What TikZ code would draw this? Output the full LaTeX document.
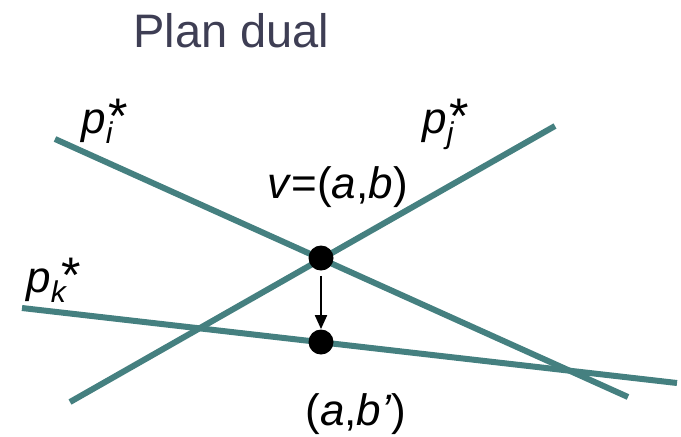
\documentclass[tikz,border=0pt]{standalone}
\usepackage{fontspec}
\setmainfont{Liberation Sans}
\usetikzlibrary{positioning,arrows.meta}
\definecolor{dualline}{RGB}{69,128,128}
\definecolor{titlegray}{RGB}{62,62,84}
\newcommand{\dualp}[1]{\textit{p}\raisebox{-5pt}{\fontsize{15}{15}\selectfont\itshape #1}\kern-0.1em{\fontsize{25}{25}\selectfont*}}
\begin{document}
\begin{tikzpicture}[x=0.5pt,y=-0.5pt,
        dualln/.style={line width=3pt,dualline},
        dot/.style={circle,fill=black,inner sep=0pt,minimum size=12.5pt},
        lbl/.style={anchor=base west,inner sep=0pt,font=\fontsize{22}{26}\selectfont}]
    \useasboundingbox (0,0) rectangle (681,436);
    % title
    \node[anchor=base west,inner sep=0pt,titlegray,font=\fontsize{23.5}{28}\selectfont] (title) at (133,47) {Plan dual};
    % dual lines
    \coordinate (pi-a) at (55,139);  \coordinate (pi-b) at (628,397);
    \coordinate (pj-a) at (70,402);  \coordinate (pj-b) at (555,126);
    \coordinate (pk-a) at (22,308);  \coordinate (pk-b) at (677,383);
    \draw[dualln] (pi-a) -- (pi-b);
    \draw[dualln] (pj-a) -- (pj-b);
    \draw[dualln] (pk-a) -- (pk-b);
    \node[lbl] (pi) at (81,133) {\dualp{i}};
    \node[lbl] (pj) at (422,133) {\dualp{j}};
    \node[lbl] (pk) at (26,292) {\dualp{k}};
    % vertex and its shift
    \node[dot] (v) at (321,258) {};
    \node[dot] (vb) at (321,342) {};
    \draw[-{Triangle[length=7pt,width=6pt]},line width=1pt,shorten <=2.5pt] (v) -- (vb);
    \node[lbl] (vlbl) at (267,198) {\textit{v}=(\textit{a},\textit{b})};
    \node[lbl] (vblbl) at (305,425) {(\textit{a},\textit{b’})};
\end{tikzpicture}
\end{document}
